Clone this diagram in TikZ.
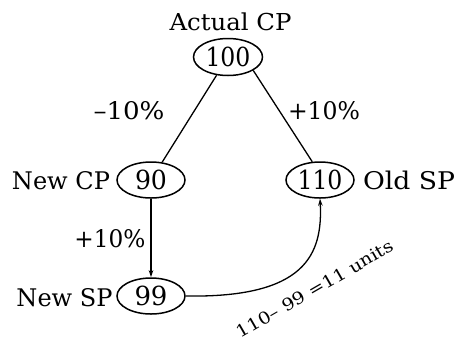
\documentclass[tikz,border=0pt]{standalone}
\usepackage{fontspec}
\usepackage{graphicx}
\newfontfamily\lblfont{DejaVu Serif}
\newcommand\fitbox[3]{\resizebox{#1pt}{#2pt}{#3}}
\usetikzlibrary{shapes.geometric,arrows.meta}
\begin{document}
\begin{tikzpicture}[x=1pt,y=-1pt,
  val/.style={ellipse,draw,line width=1.5pt,inner sep=0pt,minimum width=68pt,minimum height=36pt,font=\lblfont\fontsize{24}{28}\selectfont},
  lab/.style={anchor=base,inner sep=0pt,font=\lblfont\fontsize{22}{26}\selectfont},
  conn/.style={line width=1.3pt},
  arr/.style={line width=1.3pt,-{Stealth[length=7pt,width=4.5pt]}}]
\useasboundingbox (0,0) rectangle (462,349);
\node[val,minimum width=69pt,minimum height=37pt] (n100) at (228,57) {\fitbox{45}{19.5}{100}};
\node[val] (n90) at (151,180) {\fitbox{32}{19.5}{90}};
\node[val] (n110) at (320,180) {\fitbox{45}{19.5}{110}};
\node[val] (n99) at (151,296) {\fitbox{33}{19.5}{99}};
\node[lab] (tact) at (230.5,30.7) {\fitbox{122}{17.7}{Actual CP}};
\node[lab] (tm10) at (129,119.5) {\fitbox{71}{18}{\textendash10\%}};
\node[lab] (tp10a) at (324,119.5) {\fitbox{72}{18}{+10\%}};
\node[lab] (tnewcp) at (61,189.5) {\fitbox{98}{18}{New CP}};
\node[lab] (toldsp) at (409,189.5) {\fitbox{92}{18.5}{Old SP}};
\node[lab] (tp10b) at (110,247.5) {\fitbox{71}{18}{+10\%}};
\node[lab] (tnewsp) at (64.5,306) {\fitbox{96}{18}{New SP}};
\node[inner sep=0pt,rotate=30,font=\lblfont\fontsize{16}{20}\selectfont] (tdiff) at (315,289) {\fitbox{178}{12.5}{110\textendash{} 99 =11 units}};
\draw[conn] (n100) -- (n90);
\draw[conn] (n100.-28) -- (n110.113);
\draw[arr] (n90) -- (n99);
\draw[arr] (n99.east) .. controls (305,298) and (323,255) .. (n110.south);
\end{tikzpicture}
\end{document}
